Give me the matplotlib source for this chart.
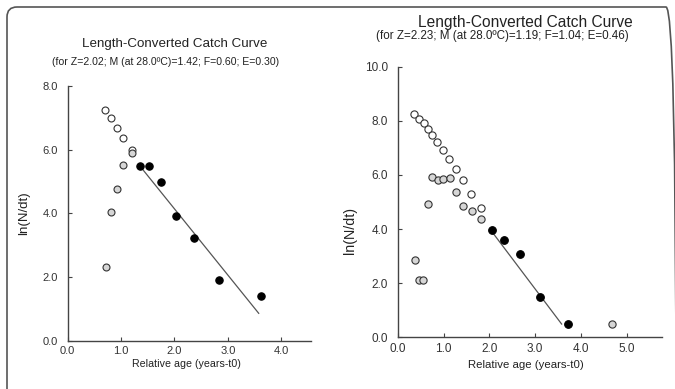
import matplotlib
matplotlib.use("Agg")
import matplotlib.pyplot as plt
from matplotlib.patches import FancyBboxPatch

plt.rcParams['font.family'] = ['Liberation Sans', 'DejaVu Sans']

# ---------------- data: left panel ----------------
L_open_x = [0.70, 0.81, 0.92, 1.04, 1.21]
L_open_y = [7.24, 6.98, 6.68, 6.38, 6.00]
L_gray_x = [1.20, 1.04, 0.93, 0.81, 0.71]
L_gray_y = [5.90, 5.53, 4.77, 4.04, 2.31]
L_black_x = [1.35, 1.53, 1.75, 2.03, 2.36, 2.83, 3.63]
L_black_y = [5.50, 5.50, 5.00, 3.93, 3.24, 1.91, 1.41]
L_line_x = [1.40, 3.58]
L_line_y = [5.39, 0.86]
L_xticks = [0.0, 1.0, 2.0, 3.0, 4.0]
L_yticks = [0.0, 2.0, 4.0, 6.0, 8.0]
L_title = "Length-Converted Catch Curve"
L_sub = "(for Z=2.02; M (at 28.0ºC)=1.42; F=0.60; E=0.30)"

# ---------------- data: right panel ----------------
R_open_x = [0.36, 0.47, 0.56, 0.66, 0.75, 0.86, 0.98, 1.12, 1.28, 1.43, 1.60, 1.82]
R_open_y = [8.27, 8.08, 7.93, 7.69, 7.46, 7.20, 6.94, 6.59, 6.23, 5.83, 5.31, 4.78]
R_gray_x = [0.75, 0.875, 0.99, 1.13, 1.27, 1.43, 1.61, 1.82, 0.65, 0.365, 0.45, 0.55, 4.69]
R_gray_y = [5.91, 5.83, 5.85, 5.90, 5.36, 4.84, 4.65, 4.37, 4.94, 2.87, 2.13, 2.13, 0.50]
R_black_x = [2.06, 2.33, 2.66, 3.11, 3.71]
R_black_y = [3.95, 3.59, 3.08, 1.48, 0.49]
R_line_x = [2.07, 3.58]
R_line_y = [3.87, 0.49]
R_xticks = [0.0, 1.0, 2.0, 3.0, 4.0, 5.0]
R_yticks = [0.0, 2.0, 4.0, 6.0, 8.0, 10.0]
R_title = "Length-Converted Catch Curve"
R_sub = "(for Z=2.23; M (at 28.0ºC)=1.19; F=1.04; E=0.46)"

xlabel = "Relative age (years-t0)"
ylabel = "ln(N/dt)"

W, H = 675, 389
fig = plt.figure(figsize=(W / 100, H / 100), dpi=100)

def fx(px):
    return px / W

def fy(py):
    return 1 - py / H

EDGE = '#333333'
GRAY = '#d6d6d6'

def panel(rect, xlim, ylim, xt, yt, ox, oy, gx, gy, bx, by, lx, ly, tsize, ms):
    ax = fig.add_axes(rect)
    ax.plot(lx, ly, color='#555555', lw=0.9, zorder=2)
    ax.plot(ox, oy, 'o', ms=ms, mfc='white', mec=EDGE, mew=0.8, ls='none', zorder=3)
    ax.plot(gx, gy, 'o', ms=ms, mfc=GRAY, mec=EDGE, mew=0.8, ls='none', zorder=3)
    ax.plot(bx, by, 'o', ms=ms + 0.3, mfc='black', mec='black', mew=0.8, ls='none', zorder=4)
    ax.set_xlim(*xlim)
    ax.set_ylim(*ylim)
    ax.set_xticks(xt)
    ax.set_yticks(yt)
    ax.set_xticklabels([f"{v:.1f}" for v in xt])
    ax.set_yticklabels([f"{v:.1f}" for v in yt])
    for s in ['top', 'right']:
        ax.spines[s].set_visible(False)
    for s in ['left', 'bottom']:
        ax.spines[s].set_color('#444444')
        ax.spines[s].set_linewidth(1.0)
    ax.tick_params(direction='in', length=3, width=0.8, colors='#444444',
                   labelcolor='#333333', labelsize=tsize)
    ax.tick_params(axis='y', pad=7)
    ax.tick_params(axis='x', pad=4)
    ax.patch.set_alpha(0)
    for sp in ax.spines.values():
        sp.set_clip_on(False)
    return ax

axL = panel([fx(67.7), fy(340.7), (311 - 67.7) / W, (340.7 - 86) / H],
            (0, 4.56), (0, 8.0), L_xticks, L_yticks,
            L_open_x, L_open_y, L_gray_x, L_gray_y, L_black_x, L_black_y,
            L_line_x, L_line_y, 8, 5.0)

axR = panel([fx(398), fy(337.3), (661.7 - 398) / W, (337.3 - 66.7) / H],
            (0, 5.77), (0, 10.0), R_xticks, R_yticks,
            R_open_x, R_open_y, R_gray_x, R_gray_y, R_black_x, R_black_y,
            R_line_x, R_line_y, 8.5, 5.2)

tc = '#222222'
fig.text(fx(175), fy(47.5), L_title, ha='center', va='baseline', fontsize=9.6, color=tc)
fig.text(fx(166), fy(62), L_sub, ha='center', va='center', fontsize=7.6, color=tc)
fig.text(fx(525), fy(26.5), R_title, ha='center', va='baseline', fontsize=11.2, color=tc)
fig.text(fx(502), fy(36), R_sub, ha='center', va='center', fontsize=8.4, color=tc)

fig.text(fx(24), fy(213), ylabel, ha='center', va='center', rotation=90, fontsize=9.5, color=tc)
fig.text(fx(350), fy(230), ylabel, ha='center', va='center', rotation=90, fontsize=10.3, color=tc)
fig.text(fx(186), fy(364), xlabel, ha='center', va='center', fontsize=7.7, color=tc)
fig.text(fx(526), fy(365), xlabel, ha='center', va='center', fontsize=8.2, color=tc)

# rounded frame around the figure (bottom and right run off the image)
frame = FancyBboxPatch((0.07, -0.3), 6.69, 3.82 + 0.3,
                       boxstyle="round,pad=0,rounding_size=0.1",
                       transform=fig.dpi_scale_trans, fill=False,
                       edgecolor='#555555', linewidth=1.2, clip_on=False)
fig.patches.append(frame)

fig.savefig("out.png", dpi=100)
